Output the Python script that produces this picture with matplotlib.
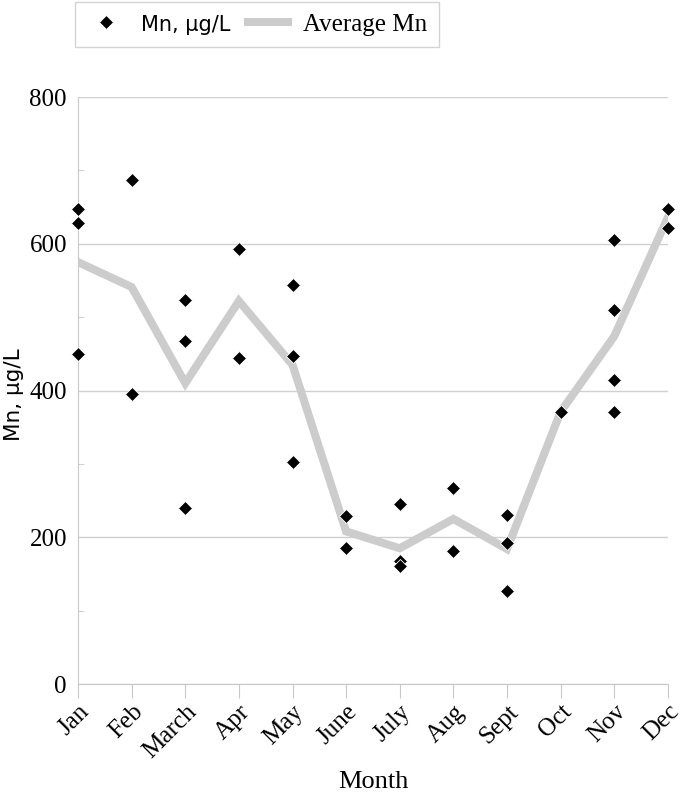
import matplotlib
matplotlib.use("Agg")
import matplotlib.pyplot as plt
from matplotlib.ticker import MultipleLocator

months = ["Jan", "Feb", "March", "Apr", "May", "June", "July", "Aug", "Sept", "Oct", "Nov", "Dec"]
mn_values = [
    [647, 628, 450],
    [687, 395],
    [523, 467, 240],
    [593, 445],
    [544, 447, 302],
    [229, 185],
    [245, 168, 161],
    [267, 181],
    [230, 192, 127],
    [371],
    [605, 510, 414, 371],
    [648, 621],
]
avg_mn = [575, 541, 410, 522, 435, 208, 185, 225, 184, 371, 474, 636]

serif = "Liberation Serif"

fig = plt.figure(figsize=(6.85, 7.94), dpi=100)
ax = fig.add_axes([0.1139, 0.1385, 0.8611, 0.7393])

xs = list(range(len(months)))
ax.plot(xs, avg_mn, color="#cccccc", lw=5.8, solid_joinstyle="miter", zorder=2, label="Average Mn")
px, py = [], []
for i, vals in enumerate(mn_values):
    for v in vals:
        px.append(i)
        py.append(v)
ax.plot(px, py, ls="none", marker="D", ms=7.5, color="black", zorder=3, label="Mn, µg/L",
        markeredgecolor="white", markeredgewidth=0.6, clip_on=False)

ax.set_xlim(0, 11)
ax.set_ylim(0, 800)
ax.set_xticks(xs)
ax.set_xticklabels(months, rotation=45, ha="right", rotation_mode="anchor", fontfamily=serif, fontsize=18)
ax.yaxis.set_major_locator(MultipleLocator(200))
ax.yaxis.set_minor_locator(MultipleLocator(100))
for lab in ax.get_yticklabels():
    lab.set_fontfamily(serif)
    lab.set_fontsize(18)
ax.grid(axis="y", which="major", color="#d0d0d0", lw=1)
ax.set_axisbelow(True)
for s in ["top", "right"]:
    ax.spines[s].set_visible(False)
ax.spines["left"].set_color("#c8c8c8")
ax.spines["bottom"].set_color("#c8c8c8")
ax.tick_params(axis="y", which="major", length=0, pad=8)
ax.tick_params(axis="y", which="minor", length=4, direction="in", color="#c8c8c8")
ax.tick_params(axis="x", length=10, direction="out", color="#c8c8c8", pad=2)

ax.set_xlabel("Month", fontfamily=serif, fontsize=19, labelpad=6)
fig.text(14 / 685, 1 - 395 / 794, "Mn, µg/L", rotation=90, ha="center", va="center",
         fontfamily="DejaVu Sans", fontsize=15.5)

h, l = ax.get_legend_handles_labels()
leg = fig.legend([h[1], h[0]], [l[1], l[0]], loc="center", bbox_to_anchor=(0.375, 0.969), ncol=2,
                 frameon=True, fancybox=False, edgecolor="#c8c8c8", fontsize=18, handlelength=1.6,
                 handletextpad=0.6, columnspacing=0.7, borderpad=0.45)
leg.get_frame().set_linewidth(1)
texts = leg.get_texts()
texts[0].set_fontfamily("DejaVu Sans")
texts[0].set_fontsize(15)
texts[1].set_fontfamily(serif)

fig.savefig("out.png", dpi=100)
